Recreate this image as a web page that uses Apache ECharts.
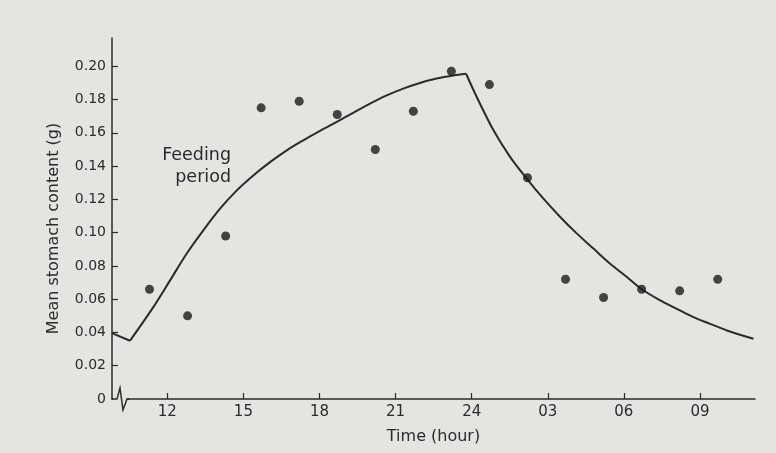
<!DOCTYPE html>
<html>
<head>
<meta charset="utf-8">
<script src="https://cdn.jsdelivr.net/npm/echarts@6/dist/echarts.min.js"></script>
<style>
html,body{margin:0;padding:0;background:#e3e5e1;}
#chart{width:776px;height:453px;}
</style>
</head>
<body>
<div id="chart"></div>
<script>
// time axis in hours since midnight of day 1 (24 = midnight, 27 = 03 next day)
var tickHours = [12, 15, 18, 21, 24, 27, 30, 33];
var tickLabels = ['12', '15', '18', '21', '24', '03', '06', '09'];
var yTicks = [0, 0.02, 0.04, 0.06, 0.08, 0.10, 0.12, 0.14, 0.16, 0.18, 0.20];

// observed means (dots)
var obsHours = [11.3, 12.8, 14.3, 15.7, 17.2, 18.7, 20.2, 21.7, 23.2, 24.7, 26.2, 27.7, 29.2, 30.7, 32.2, 33.7];
var obsValues = [0.066, 0.050, 0.098, 0.175, 0.179, 0.171, 0.150, 0.173, 0.197, 0.189, 0.133, 0.072, 0.061, 0.066, 0.065, 0.072];

// fitted curve in three pieces
var preCurve = [[9.82, 0.0396], [10.53, 0.0350]];
var feedCurve = [[10.53, 0.0350], [11.45, 0.0552], [12.11, 0.0713], [12.76, 0.0873], [13.42, 0.1014], [14.08, 0.1144],
  [14.74, 0.1254], [15.39, 0.1344], [16.05, 0.1424], [16.71, 0.1495], [17.36, 0.1555], [18.02, 0.1612], [18.74, 0.1670],
  [19.33, 0.1720], [19.99, 0.1775], [20.65, 0.1825], [21.30, 0.1866], [21.96, 0.1900], [22.62, 0.1926], [23.28, 0.1945],
  [23.78, 0.1955]];
var digestCurve = [[23.78, 0.1955], [24.20, 0.1815], [24.86, 0.1615], [25.52, 0.1454], [26.17, 0.1325], [26.83, 0.1204],
  [27.49, 0.1094], [28.15, 0.0994], [28.80, 0.0904], [29.46, 0.0813], [30.12, 0.0733], [30.68, 0.0663], [31.43, 0.0593],
  [32.09, 0.0542], [32.74, 0.0492], [33.40, 0.0452], [34.06, 0.0412], [35.11, 0.0362]];

var ink = '#2b2b2b';
var bg = '#e3e5e1';
var font = 'DejaVu Sans';

var obs = [];
for (var i = 0; i < obsHours.length; i++) obs.push([obsHours[i], obsValues[i]]);

function curveSeries(d, sm) {
  return {
    type: 'line', data: d, smooth: sm, symbol: 'none',
    lineStyle: {color: ink, width: 2}, silent: true, z: 2
  };
}

var myChart = echarts.init(document.getElementById('chart'));
myChart.setOption({
  backgroundColor: bg,
  animation: false,
  grid: {left: 112, right: 21, top: 38, bottom: 54},
  xAxis: {
    type: 'value', min: 9.82, max: 35.17,
    name: 'Time (hour)', nameLocation: 'middle', nameGap: 30,
    nameTextStyle: {fontFamily: font, fontSize: 16, color: ink},
    axisLine: {lineStyle: {color: ink, width: 1.5}},
    axisTick: {inside: true, length: 6, lineStyle: {color: ink, width: 1.2}, customValues: tickHours},
    axisLabel: {
      customValues: tickHours, margin: 6, fontFamily: font, fontSize: 15, color: ink,
      formatter: function (v) { return tickLabels[tickHours.indexOf(Math.round(v))]; }
    },
    splitLine: {show: false}
  },
  yAxis: {
    type: 'value', min: 0, max: 0.217,
    name: 'Mean stomach content (g)', nameLocation: 'middle', nameGap: 50,
    nameTextStyle: {fontFamily: font, fontSize: 16, color: ink, padding: [0, 0, 0, -20]},
    axisLine: {lineStyle: {color: ink, width: 1.5}},
    axisTick: {inside: true, length: 6, lineStyle: {color: ink, width: 1.2}, customValues: yTicks},
    axisLabel: {
      customValues: yTicks, margin: 6, fontFamily: font, fontSize: 14, color: ink,
      formatter: function (v) { return v === 0 ? '0' : v.toFixed(2); }
    },
    splitLine: {show: false}
  },
  series: [
    curveSeries(preCurve, false),
    curveSeries(feedCurve, 0.3),
    curveSeries(digestCurve, 0.3),
    {
      type: 'scatter', data: obs, symbol: 'circle', symbolSize: 9,
      itemStyle: {color: '#1a1a1a'}, z: 3
    }
  ],
  graphic: [
    {type: 'rect', shape: {x: 113, y: 396, width: 14, height: 6}, style: {fill: bg}, z: 100},
    {type: 'polyline', shape: {points: [[112, 399], [117, 399], [120, 388], [123, 410], [127, 399], [130, 399]]},
      style: {stroke: ink, lineWidth: 1.5, fill: null}, z: 101},
    {type: 'text', x: 231, y: 146, z: 100,
      style: {text: 'Feeding', font: '17.5px "DejaVu Sans"', fill: ink, align: 'right'}},
    {type: 'text', x: 231, y: 168, z: 100,
      style: {text: 'period', font: '17.5px "DejaVu Sans"', fill: ink, align: 'right'}}
  ]
});
</script>
</body>
</html>
